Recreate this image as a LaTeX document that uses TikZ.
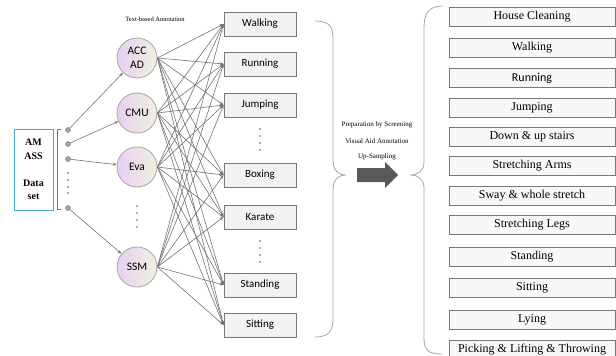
\documentclass[tikz,border=0pt]{standalone}
\usepackage{fontspec}
\setmainfont{Liberation Serif}
\newfontfamily\calibri{Carlito}
\usepackage{tikz}
\usetikzlibrary{arrows.meta}
\definecolor{linegray}{RGB}{115, 115, 115}
\definecolor{bracegray}{RGB}{165, 165, 165}
\definecolor{boxgray}{RGB}{242, 242, 242}
\definecolor{classgray}{RGB}{248, 248, 248}
\definecolor{bordergray}{RGB}{120, 120, 120}
\definecolor{arrowgray}{RGB}{89, 89, 89}
\definecolor{tealblue}{RGB}{75, 172, 198}
\definecolor{lilac}{RGB}{234, 206, 244}
\definecolor{palegreen}{RGB}{238, 242, 222}

\begin{document}
\begin{tikzpicture}[x=1pt, y=-1pt,
		link/.style={linegray, line width=0.6, -{Stealth[length=4pt, width=3pt]}},
		srcdot/.style={circle, draw=linegray, fill=bracegray, inner sep=0, minimum size=5},
		setcircle/.style={circle, draw=bracegray, line width=0.8, left color=lilac, right color=palegreen, minimum size=40, inner sep=0, align=center, font=\calibri\fontsize{11.5}{14}\selectfont},
		actbox/.style={rectangle, draw=bordergray, line width=0.9, fill=boxgray, minimum width=72, minimum height=24, font=\calibri\fontsize{11}{13}\selectfont},
		classbox/.style={rectangle, draw=bordergray, line width=0.9, fill=classgray, minimum width=166, minimum height=19, inner sep=0, font=\fontsize{12}{14}\selectfont},
		note/.style={font=\fontsize{7}{8}\selectfont}]
			
			\useasboundingbox (0, 0) rectangle (616, 356);
			
			% LAYER 1: DATASET
			\node[draw=tealblue, line width=0.9, minimum width=39, minimum height=81, align=center, font=\bfseries\fontsize{10}{13.5}\selectfont] (amass) at (33.5, 169.5) {AM\\ASS\\ \\Data\\set};
			\draw[linegray, line width=0.6] (61, 129) -- (57, 129) -- (57, 209) -- (61, 209);
			\node[srcdot] (d1) at (68, 130) {};
			\node[srcdot] (d2) at (68, 144) {};
			\node[srcdot] (d3) at (68, 159) {};
			\node[srcdot] (d4) at (68, 208) {};
			\foreach \y in {173, 180, 187, 193} \fill[arrowgray] (68, \y) circle (0.9);
			
			% LAYER 2: SUB-DATASETS
			\node[note, font=\fontsize{6.5}{8}\selectfont] (textann) at (155, 19) {Text-based Annotation};
			\node[setcircle] (accad) at (137, 58) {ACC\\AD};
			\node[setcircle] (cmu) at (137, 113) {CMU};
			\node[setcircle] (eva) at (137, 167) {Eva};
			\node[setcircle] (ssm) at (137, 267) {SSM};
			\foreach \y in {206, 213, 220, 227} \fill[arrowgray] (137, \y) circle (0.9);
			
			% ARROWS
			\draw[link] (d1) -- (accad);
			\draw[link] (d2) -- (cmu);
			\draw[link] (d3) -- (eva);
			\draw[link] (d4) -- (ssm);
			
			% LAYER 3: ACTIVITIES
			\node[actbox] (walk) at (260, 24) {Walking};
			\node[actbox] (run) at (260, 64) {Running};
			\node[actbox] (jump) at (260, 105) {Jumping};
			\node[actbox] (boxing) at (260, 175) {Boxing};
			\node[actbox] (karate) at (260, 217) {Karate};
			\node[actbox] (stand) at (260, 285) {Standing};
			\node[actbox] (sit) at (260, 325) {Sitting};
			\foreach \y in {129, 136, 143, 150, 241, 248, 255, 262} \fill[arrowgray] (260, \y) circle (0.9);
			
			% ARROWS
			\foreach \src in {accad, cmu, eva, ssm}
				\foreach \dst in {walk, run, jump, boxing, karate, stand, sit}
					\draw[link] (\src.east) -- (\dst.west);
			
			% PREPARATION
			\draw[bracegray, line width=0.8] (315, 21) .. controls (333, 21) and (333, 30) .. (333, 42) -- (333, 160) .. controls (333, 170) and (338, 175) .. (346, 175) .. controls (338, 175) and (333, 180) .. (333, 190) -- (333, 318) .. controls (333, 330) and (330, 337) .. (315, 337);
			\node[note] (screen) at (377, 125) {Preparation by Screening};
			\node[note] (visual) at (377, 141) {Visual Aid Annotation};
			\node[note] (upsamp) at (377, 157) {Up-Sampling};
			\fill[arrowgray] (357, 168) -- (385, 168) -- (385, 162) -- (398, 175) -- (385, 188) -- (385, 182) -- (357, 182) -- cycle;
			\draw[bracegray, line width=0.8] (443, 6) .. controls (428, 6) and (424, 14) .. (424, 28) -- (424, 162) .. controls (424, 171) and (418, 175) .. (410, 175) .. controls (418, 175) and (424, 179) .. (424, 188) -- (424, 338) .. controls (424, 350) and (428, 354) .. (442, 354);
			
			% LAYER 4: CLASSES
			\node[classbox] (cls1) at (532, 17) {House Cleaning};
			\node[classbox] (cls2) at (532, 48) {Walking};
			\node[classbox] (cls3) at (532, 78) {\calibri Running};
			\node[classbox] (cls4) at (532, 108) {Jumping};
			\node[classbox] (cls5) at (532, 137) {Down \& up stairs};
			\node[classbox] (cls6) at (532, 166) {Stretching Arms};
			\node[classbox] (cls7) at (532, 196) {Sway \& whole stretch};
			\node[classbox] (cls8) at (532, 225) {Stretching Legs};
			\node[classbox] (cls9) at (532, 257) {Standing};
			\node[classbox] (cls10) at (532, 288) {Sitting};
			\node[classbox] (cls11) at (532, 320) {Lying};
			\node[classbox] (cls12) at (532, 350) {Picking \& Lifting \& Throwing};
			
		\end{tikzpicture}
\end{document}
